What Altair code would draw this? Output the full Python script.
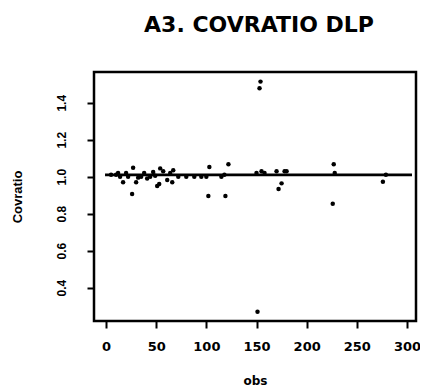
import altair as alt
import pandas as pd

# outlying / scattered observations (obs index, covratio)
obs = [153, 154, 151, 26, 102, 119, 226, 103, 122, 227, 172, 175, 276, 279,
       51, 53, 27, 30, 17, 54, 61, 66, 67, 20, 22, 35, 38, 41, 44, 47, 57,
       72, 80, 88, 95, 115, 118, 155, 158, 170, 178, 5, 10, 14, 228, 12, 32,
       49, 64, 100, 150, 180]
covratio = [1.478, 1.514, 0.27, 0.906, 0.896, 0.896, 0.854, 1.052, 1.067,
            1.067, 0.933, 0.964, 0.973, 1.01, 0.95, 0.96, 1.049, 0.97, 0.97,
            1.045, 0.982, 0.97, 1.035, 1.02, 1.0, 1.0, 1.02, 0.99, 1.0, 1.025,
            1.03, 1.0, 1.0, 1.0, 1.0, 1.0, 1.01, 1.03, 1.02, 1.03, 1.03, 1.01,
            1.01, 1.0, 1.02, 1.02, 0.995, 1.005, 1.02, 1.0, 1.02, 1.03]

# horizontal band of points near 1
ref_x = [-1, 305]
ref_y = [1.01, 1.01]

x_ticks = [0, 50, 100, 150, 200, 250, 300]
y_ticks = [0.4, 0.6, 0.8, 1.0, 1.2, 1.4]

pts = pd.DataFrame({"obs": obs, "Covratio": covratio})
ref = pd.DataFrame({"obs": ref_x, "Covratio": ref_y})

FONT = "Liberation Sans"
WIDE = "DejaVu Sans"

xscale = alt.Scale(domain=[-12, 309], nice=False, zero=False)
yscale = alt.Scale(domain=[0.22, 1.566], nice=False, zero=False)

xaxis = alt.Axis(values=x_ticks, grid=False, tickSize=7, tickWidth=2,
                 tickColor="black", domain=False, labelFont=WIDE,
                 labelFontSize=13, labelFontWeight="bold", labelColor="black",
                 labelPadding=12, title="obs", titleFont=WIDE, titleFontSize=12,
                 titleFontWeight="bold", titleColor="black", titlePadding=22)
yaxis = alt.Axis(values=y_ticks, format=".1f", grid=False, tickSize=7,
                 tickWidth=2, tickColor="black", domain=False, labelFont=FONT,
                 labelFontSize=12, labelFontWeight="bold", labelColor="black",
                 labelAngle=270, labelAlign="center", labelBaseline="bottom",
                 labelPadding=19, title="Covratio", titleFont=FONT,
                 titleFontSize=13, titleFontWeight="bold", titleColor="black",
                 titlePadding=31)

line = alt.Chart(ref).mark_line(color="black", strokeWidth=2.8).encode(
    x=alt.X("obs:Q", scale=xscale, axis=xaxis),
    y=alt.Y("Covratio:Q", scale=yscale, axis=yaxis),
)
dots = alt.Chart(pts).mark_circle(color="black", size=20, opacity=1).encode(
    x=alt.X("obs:Q", scale=xscale),
    y=alt.Y("Covratio:Q", scale=yscale),
)

chart = (line + dots).properties(
    width=322, height=249,
    autosize=alt.AutoSizeParams(type="none"),
    padding={"left": 86, "top": 64, "right": 4, "bottom": 70},
    title=alt.TitleParams("A3. COVRATIO DLP", font=WIDE, fontSize=22,
                          fontWeight="bold", color="black", offset=35,
                          anchor="middle", dx=4),
).configure_view(stroke="black", strokeWidth=2.5)

chart.save("out.html", embed_options={"renderer": "svg", "actions": False})
